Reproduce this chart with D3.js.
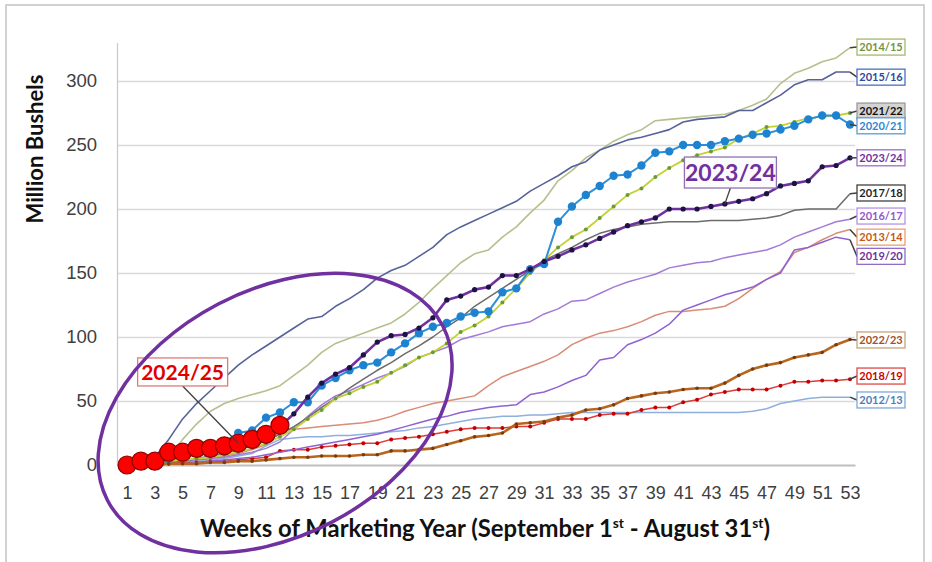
<!DOCTYPE html>
<html>
<head>
<meta charset="utf-8">
<script src="https://cdn.jsdelivr.net/npm/d3@7"></script>
<style>
  body { margin: 0; background: #fff; }
  svg { display: block; font-family: Lato, Carlito, "Open Sans", sans-serif; }
</style>
</head>
<body>
<svg id="chart" width="932" height="562"></svg>
<script>
// weeks of the marketing year
const weeks = [1,2,3,4,5,6,7,8,9,10,11,12,13,14,15,16,17,18,19,20,21,22,23,24,25,26,27,
               28,29,30,31,32,33,34,35,36,37,38,39,40,41,42,43,44,45,46,47,48,49,50,51,52,53];
const weekTicks = [1,3,5,7,9,11,13,15,17,19,21,23,25,27,29,31,33,35,37,39,41,43,45,47,49,51,53];
const bushelTicks = [0,50,100,150,200,250,300];

// cumulative exports, million bushels, by week
const mb2012 = [0,0,1,1,2,3,4,5,7,9, 15,20,21,22,22,23,23,24,25,26, 27,29,30,32,34,36,37,38,38,39,
                39,40,41,41,41,41,41,41,41,41, 41,41,41,41,41,42,44,48,50,52, 53,53,53];
const mb2013 = [0,0,1,2,3,4,5,7,9,12, 16,27,28,29,30,31,32,33,35,38, 42,45,48,50,52,54,62,69,73,77,
                81,86,94,99,103,105,108,112,117,120, 120,121,122,124,130,138,145,151,166,170, 176,181,184];
const mb2014 = [0,0,1,5,20,32,42,48,52,55, 58,62,70,78,88,95,99,103,107,111, 118,127,138,148,158,165,168,178,186,197,
                207,222,230,240,246,253,258,262,269,270, 271,272,273,274,277,281,286,298,306,310, 315,318,326];
const mb2015 = [0,1,6,20,36,48,58,68,78,86, 93,100,107,114,116,124,130,137,146,152, 156,163,170,180,186,191,196,201,206,214,
                220,226,233,237,246,250,254,256,259,262, 268,270,271,272,277,277,283,289,297,301, 301,307,307];
const mb2016 = [0,0,1,2,3,4,5,6,8,10, 13,18,28,38,47,54,58,63,68,72, 77,84,88,92,98,101,104,108,110,112,
                118,122,128,129,134,139,143,146,149,154, 156,158,159,162,164,166,168,172,178,182, 186,190,192];
const mb2017 = [0,0,1,2,3,5,7,9,12,15, 19,24,30,37,45,52,60,67,74,80, 87,93,100,108,115,124,131,138,145,152,
                160,165,170,176,181,184,186,188,189,190, 190,190,191,191,191,192,193,195,199,200, 200,200,212];
const mb2018 = [0,0,1,1,2,2,3,3,4,5, 6,11,12,12,14,15,16,17,17,20, 21,22,24,26,28,29,29,29,30,30,
                33,36,36,36,39,40,40,43,45,45, 49,51,55,57,59,59,59,62,65,65, 66,66,67];
const mb2019 = [0,0,0,1,1,2,3,4,5,6, 8,10,12,14,16,18,20,22,24,27, 30,33,36,38,41,43,45,46,47,55,
                57,61,66,70,82,84,94,98,103,110, 121,125,129,133,136,139,145,150,168,170, 174,178,176];
const mb2020 = [0,1,2,4,6,9,12,18,25,27, 37,41,49,49,62,68,74,78,80,88, 95,103,108,111,116,119,120,135,138,153,
                157,190,202,211,218,226,227,234,244,245, 250,250,250,253,255,258,259,262,265,270, 273,273,266];
const mb2021 = [0,1,2,3,4,5,6,8,10,13, 17,22,28,36,43,52,56,61,65,72, 78,84,88,95,104,109,116,127,138,150,
                160,170,178,184,193,202,211,216,225,232, 238,242,245,248,255,259,264,265,268,271, 272,273,275];
const mb2022 = [0,0,0,1,1,1,2,2,3,3, 4,5,6,6,7,7,7,8,8,11, 11,12,13,16,19,22,23,25,32,33,
                34,37,39,43,44,47,52,54,56,57, 59,60,60,64,70,75,78,80,84,86, 88,94,98];
const mb2023 = [0,2,4,6,8,10,12,14,17,20, 24,30,40,53,64,71,76,86,96,101, 102,107,115,129,132,137,139,148,148,153,
                159,163,168,172,177,182,187,190,193,200, 200,200,202,204,206,208,212,218,220,222, 233,234,240];
const mb2024 = [0,3,3,10,10,13,13,15,17,20,24,31];

const seasonNames = ['2012/13','2013/14','2014/15','2015/16','2016/17','2017/18','2018/19',
                     '2019/20','2021/22','2020/21','2022/23','2023/24','2024/25'];
const seasonValues = [mb2012, mb2013, mb2014, mb2015, mb2016, mb2017, mb2018,
                      mb2019, mb2021, mb2020, mb2022, mb2023, mb2024];

// look of each season
let styles = {
    '2012/13': {line: '#8fb0dc', width: 1.5, dot: 0},
    '2013/14': {line: '#d98c76', width: 1.5, dot: 0},
    '2014/15': {line: '#b7bf8c', width: 1.6, dot: 0},
    '2015/16': {line: '#56629a', width: 1.6, dot: 0},
    '2016/17': {line: '#a27ad8', width: 1.5, dot: 0},
    '2017/18': {line: '#6b6b6b', width: 1.5, dot: 0},
    '2018/19': {line: '#e03a3a', width: 1.5, dot: 2, dotFill: '#c00000'},
    '2019/20': {line: '#8f62d2', width: 1.5, dot: 0},
    '2020/21': {line: '#2f8fd6', width: 2, dot: 4.2, dotFill: '#1d83d0'},
    '2021/22': {line: '#c2d230', width: 1.8, dot: 2, dotFill: '#6a9a3a'},
    '2022/23': {line: '#b8661e', width: 2.6, dot: 1.8, dotFill: '#7a3a10'},
    '2023/24': {line: '#7030a0', width: 2.6, dot: 2.6, dotFill: '#1b1340'},
    '2024/25': {line: '#ff0000', width: 2, dot: 9, dotFill: '#ff0000', dotStroke: '#8b0000'}
};

// end labels on the right (value where the label sits)
let endLabels = [
    {name: '2014/15', at: 326.5, text: '#76923c', border: '#a4b86a', fill: '#fff'},
    {name: '2015/16', at: 303,   text: '#2f4a9a', border: '#4a6fc0', fill: '#fff'},
    {name: '2021/22', at: 276.5, text: '#111',    border: '#9a9a9a', fill: '#d4d4d4'},
    {name: '2020/21', at: 265,   text: '#2e86d6', border: '#5b9bd5', fill: '#fff'},
    {name: '2023/24', at: 240,   text: '#7030a0', border: '#9a70cc', fill: '#fff'},
    {name: '2017/18', at: 212.5, text: '#262626', border: '#404040', fill: '#fff'},
    {name: '2016/17', at: 194.5, text: '#9455d0', border: '#b592e6', fill: '#fff'},
    {name: '2013/14', at: 178,   text: '#c55a11', border: '#eaa070', fill: '#fff'},
    {name: '2019/20', at: 163,   text: '#7030a0', border: '#8e6cc8', fill: '#fff'},
    {name: '2022/23', at: 97.7,  text: '#a0522d', border: '#c9a27a', fill: '#fff'},
    {name: '2018/19', at: 69.5,  text: '#d00000', border: '#e04848', fill: '#fff'},
    {name: '2012/13', at: 50.8,  text: '#4a7ebb', border: '#7fa7d9', fill: '#fff'}
];

let svg = d3.select('#chart');

let plotLeft = 117, plotRight = 855, plotTop = 42.6, plotBottom = 465;

let x = d3.scaleLinear().domain([0.28, 53.36]).range([plotLeft, plotRight]);
let y = d3.scaleLinear().domain([0, 330]).range([plotBottom, plotTop]);

// outer frame
svg.append('rect')
    .attr('x', 6).attr('y', 5)
    .attr('width', 918).attr('height', 600)
    .attr('fill', 'none')
    .attr('stroke', '#c4c4c4')
    .attr('stroke-width', 1.5);

// gridlines
let grid = svg.append('g')
    .attr('transform', 'translate(' + plotLeft + ',0)')
    .call(d3.axisLeft(y).tickValues(bushelTicks.slice(1)).tickSize(-(plotRight - plotLeft)).tickFormat(''));
grid.select('.domain').remove();
grid.selectAll('line').attr('stroke', '#d9d9d9').attr('stroke-width', 1.5);

// y axis
let yAxis = svg.append('g')
    .attr('transform', 'translate(' + plotLeft + ',0)')
    .call(d3.axisLeft(y).tickValues(bushelTicks).tickSize(0).tickPadding(20));
yAxis.select('.domain').attr('stroke', '#c8c8c8').attr('stroke-width', 1.2);
yAxis.selectAll('text')
    .attr('font-size', 18.5)
    .attr('fill', '#404040')
    .attr('font-family', null);

// x axis
let xAxis = svg.append('g')
    .attr('transform', 'translate(0,' + plotBottom + ')')
    .call(d3.axisBottom(x).tickValues(weekTicks).tickSize(0).tickPadding(21));
xAxis.select('.domain').attr('stroke', '#bfbfbf').attr('stroke-width', 2);
xAxis.selectAll('text')
    .attr('font-size', 18)
    .attr('fill', '#404040')
    .attr('font-family', null);

// axis titles
svg.append('text')
    .attr('transform', 'translate(43,149) rotate(-90)')
    .attr('text-anchor', 'middle')
    .attr('font-size', 22)
    .attr('font-weight', 'bold')
    .attr('fill', '#111')
    .text('Million Bushels');

let xTitle = svg.append('text')
    .attr('x', 485)
    .attr('y', 537)
    .attr('text-anchor', 'middle')
    .attr('font-size', 21)
    .attr('font-weight', 'bold')
    .attr('fill', '#111');
xTitle.append('tspan').text('Weeks of Marketing Year (September 1');
xTitle.append('tspan').attr('dy', -8).attr('font-size', 12).text('st');
xTitle.append('tspan').attr('dy', 8).text(' - August 31');
xTitle.append('tspan').attr('dy', -8).attr('font-size', 12).text('st');
xTitle.append('tspan').attr('dy', 8).text(')');
// grow the title to the width it takes in the original
let titleSize = 21 * 570 / xTitle.node().getComputedTextLength();
xTitle.attr('font-size', titleSize);
xTitle.selectAll('tspan').filter((d, i) => i % 2 === 1)
    .attr('font-size', titleSize * 0.58)
    .attr('dy', -titleSize * 0.38);
xTitle.selectAll('tspan').filter((d, i) => i > 0 && i % 2 === 0)
    .attr('dy', titleSize * 0.38);

// season lines
let seasons = seasonNames.map((name, i) => {
    return {name: name, values: seasonValues[i]};
});

let line = d3.line()
    .x((d, i) => x(weeks[i]))
    .y((d) => y(d));

let layer = svg.append('g');

seasons.forEach((s) => {
    let st = styles[s.name];
    layer.append('path')
        .attr('d', line(s.values))
        .attr('fill', 'none')
        .attr('stroke', st.line)
        .attr('stroke-width', st.width)
        .attr('stroke-linejoin', 'round');
    if (st.dot > 0) {
        layer.selectAll(null)
            .data(s.values)
            .enter()
            .append('circle')
            .attr('cx', (d, i) => x(weeks[i]))
            .attr('cy', (d) => y(d))
            .attr('r', st.dot)
            .attr('fill', st.dotFill)
            .attr('stroke', st.dotStroke || 'none')
            .attr('stroke-width', st.dotStroke ? 1.2 : 0);
    }
});

// right hand labels with leader lines
let labelX = 857, labelW = 48, labelH = 16;
endLabels.forEach((lab) => {
    let vals = seasonValues[seasonNames.indexOf(lab.name)];
    let last = vals[vals.length - 1];
    svg.append('line')
        .attr('x1', x(weeks[vals.length - 1]))
        .attr('y1', y(last))
        .attr('x2', labelX)
        .attr('y2', y(lab.at))
        .attr('stroke', '#404040')
        .attr('stroke-width', 1.5);
    svg.append('rect')
        .attr('x', labelX)
        .attr('y', y(lab.at) - labelH / 2)
        .attr('width', labelW)
        .attr('height', labelH)
        .attr('fill', lab.fill)
        .attr('stroke', lab.border)
        .attr('stroke-width', 1.3);
    svg.append('text')
        .attr('x', labelX + labelW / 2)
        .attr('y', y(lab.at))
        .attr('dy', '0.36em')
        .attr('text-anchor', 'middle')
        .attr('font-size', 11)
        .attr('font-weight', 'bold')
        .attr('fill', lab.text)
        .text(lab.name);
});

// call-out boxes
let callouts = [
    {name: '2024/25', wk: 5.0, at: 72.7, w: 90, h: 28, size: 21, text: '#e00000', border: '#e07a7a',
     fill: '#fff', toWeek: 9, toVal: mb2024[8]},
    {name: '2023/24', wk: 44.4, at: 228.5, w: 92, h: 31, size: 23, text: '#7030a0', border: '#8e72b4',
     fill: '#fcfbfe', toWeek: 44, toVal: mb2023[43]}
];

callouts.forEach((c) => {
    let cx = x(c.wk), cy = y(c.at);
    svg.append('line')
        .attr('x1', cx)
        .attr('y1', cy + c.h / 2)
        .attr('x2', x(c.toWeek))
        .attr('y2', y(c.toVal))
        .attr('stroke', '#404040')
        .attr('stroke-width', 1.3);
    svg.append('rect')
        .attr('x', cx - c.w / 2)
        .attr('y', cy - c.h / 2)
        .attr('width', c.w)
        .attr('height', c.h)
        .attr('fill', c.fill)
        .attr('stroke', c.border)
        .attr('stroke-width', 1.3);
    svg.append('text')
        .attr('x', cx)
        .attr('y', cy)
        .attr('dy', '0.36em')
        .attr('text-anchor', 'middle')
        .attr('font-size', c.size)
        .attr('font-weight', 'bold')
        .attr('fill', c.text)
        .text(c.name);
});

// highlight ring round the early weeks
let ringX = x(11.65), ringY = y(40.6);
svg.append('ellipse')
    .attr('cx', ringX)
    .attr('cy', ringY)
    .attr('rx', 189)
    .attr('ry', 123)
    .attr('transform', 'rotate(-27.5 ' + ringX + ' ' + ringY + ')')
    .attr('fill', 'none')
    .attr('stroke', '#7030a0')
    .attr('stroke-width', 3.5);
</script>
</body>
</html>
